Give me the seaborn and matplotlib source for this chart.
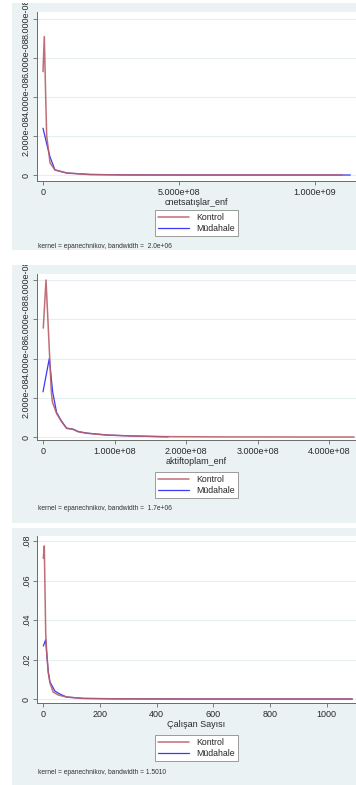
import pandas as pd
import matplotlib
matplotlib.use("Agg")
import matplotlib.pyplot as plt
from matplotlib.patches import Rectangle
import seaborn as sns

# Kernel density curves
# Panel 1: cnetsatışlar_enf
k1_x = [0, 4.8e6, 9.9e6, 1.36e7, 2.6e7, 4.4e7, 8.8e7, 1.73e8, 3.0e8, 5.0e8, 7.0e8, 9.0e8, 1.1e9]
k1_y = [5.3e-8, 7.1e-8, 4.0e-8, 2.0e-8, 0.62e-8, 0.26e-8, 0.10e-8, 0.02e-8, 0.005e-8, 0, 0, 0, 0]
m1_x = [0, 1.36e7, 2.6e7, 4.4e7, 8.8e7, 1.73e8, 3.0e8, 5.0e8, 7.0e8, 9.0e8, 1.13e9]
m1_y = [2.4e-8, 1.6e-8, 0.92e-8, 0.26e-8, 0.10e-8, 0.03e-8, 0.005e-8, 0, 0, 0, 0]

# Panel 2: aktiftoplam_enf
k2_x = [0.4e6, 4.2e6, 1.15e7, 1.3e7, 1.9e7, 2.6e7, 3.3e7, 4.2e7, 4.9e7, 6.1e7, 8.9e7, 1.26e8, 1.7e8, 2.5e8, 3.5e8, 4.35e8]
k2_y = [5.55e-8, 8.0e-8, 2.4e-8, 1.8e-8, 1.2e-8, 0.78e-8, 0.44e-8, 0.39e-8, 0.27e-8, 0.19e-8, 0.10e-8, 0.05e-8, 0.02e-8, 0.005e-8, 0, 0]
m2_x = [0, 8.8e6, 1.35e7, 1.9e7, 2.6e7, 3.3e7, 4.2e7, 4.9e7, 6.1e7, 8.9e7, 1.26e8, 1.6e8, 1.75e8]
m2_y = [2.3e-8, 4.0e-8, 2.3e-8, 1.25e-8, 0.8e-8, 0.45e-8, 0.4e-8, 0.28e-8, 0.2e-8, 0.1e-8, 0.05e-8, 0.02e-8, 0.01e-8]

# Panel 3: Çalışan Sayısı
k3_x = [0, 3.5, 8.5, 12, 17.6, 23.6, 35, 53, 82, 140, 250, 500, 800, 1090]
k3_y = [0.0713, 0.0775, 0.0334, 0.0233, 0.0132, 0.0081, 0.0035, 0.002, 0.001, 0.0003, 0.0001, 0, 0, 0]
m3_x = [0, 8.5, 12, 17.6, 23.6, 41, 59, 82, 140, 250, 500, 800, 1090]
m3_y = [0.0268, 0.030, 0.0233, 0.0137, 0.0086, 0.004, 0.0025, 0.001, 0.0003, 0.0001, 0, 0, 0]

groups = ["Kontrol", "Müdahale"]
x_titles = ["cnetsatışlar_enf", "aktiftoplam_enf", "Çalışan Sayısı"]
notes = ["kernel = epanechnikov, bandwidth =  2.0e+06",
         "kernel = epanechnikov, bandwidth =  1.7e+06",
         "kernel = epanechnikov, bandwidth = 1.5010"]
y_ticks = [[0, 2e-8, 4e-8, 6e-8, 8e-8], [0, 2e-8, 4e-8, 6e-8, 8e-8], [0, 0.02, 0.04, 0.06, 0.08]]
y_labels = [["0", "2.000e-08", "4.000e-08", "6.000e-08", "8.000e-08"],
            ["0", "2.000e-08", "4.000e-08", "6.000e-08", "8.000e-08"],
            ["0", ".02", ".04", ".06", ".08"]]
x_ticks = [[0, 5e8, 1e9], [0, 1e8, 2e8, 3e8, 4e8], [0, 200, 400, 600, 800, 1000]]
x_labels = [["0", "5.000e+08", "1.000e+09"],
            ["0", "1.000e+08", "2.000e+08", "3.000e+08", "4.000e+08"],
            ["0", "200", "400", "600", "800", "1000"]]
curves = [(k1_x, k1_y, m1_x, m1_y), (k2_x, k2_y, m2_x, m2_y), (k3_x, k3_y, m3_x, m3_y)]

# pixel layout (356 x 785 canvas)
W, H = 356, 785
panels = [
    dict(bt=3, bb=250, pt=12, pb=181, y0=175, y1=19, x0=43, xpx=136 / 5e8, leg=210, note=247),
    dict(bt=265, bb=523, pt=274, pb=440, y0=437, y1=280, x0=43, xpx=71.5 / 1e8, leg=472, note=508),
    dict(bt=528, bb=785, pt=536, pb=703, y0=699, y1=541, x0=43.3, xpx=56.7 / 200, leg=735, note=772),
]

sns.set_style("white")
plt.rcParams["font.family"] = ["Liberation Sans", "DejaVu Sans"]

bg_col = "#EAF2F3"
red = "#B95E67"
blue = "#3A3AF8"
axis_col = "#6A6A6A"

fig = plt.figure(figsize=(W / 100, H / 100), dpi=100)

for i, p in enumerate(panels):
    bg = Rectangle((12 / W, 1 - p["bb"] / H), 1 - 12 / W, (p["bb"] - p["bt"]) / H,
                   transform=fig.transFigure, facecolor=bg_col, edgecolor="none", zorder=-5)
    fig.patches.append(bg)

    left, right = 37, W
    ax = fig.add_axes([left / W, 1 - p["pb"] / H, (right - left) / W, (p["pb"] - p["pt"]) / H])
    ax.set_facecolor("white")

    kx, ky, mx, my = curves[i]
    df = pd.concat([
        pd.DataFrame({"x": mx, "y": my, "grup": groups[1]}),
        pd.DataFrame({"x": kx, "y": ky, "grup": groups[0]}),
    ])
    sns.lineplot(data=df[df.grup == groups[1]], x="x", y="y", color=blue, lw=0.9,
                 estimator=None, sort=False, ax=ax, label=groups[1])
    sns.lineplot(data=df[df.grup == groups[0]], x="x", y="y", color=red, lw=1.1, alpha=0.9,
                 estimator=None, sort=False, ax=ax, label=groups[0])

    # axis limits from pixel geometry
    top_val = y_ticks[i][-1]
    per_px = top_val / (p["y0"] - p["y1"])
    ax.set_ylim(-(p["pb"] - p["y0"]) * per_px, (p["y0"] - p["pt"]) * per_px)
    ax.set_xlim((left - p["x0"]) / p["xpx"], (right - p["x0"]) / p["xpx"])

    ax.set_yticks(y_ticks[i], labels=y_labels[i])
    ax.set_xticks(x_ticks[i], labels=x_labels[i])
    ax.tick_params(axis="y", length=3, width=0.6, color=axis_col, pad=1.5,
                   labelsize=6.5, labelcolor="#2A2A2A", left=True)
    ax.tick_params(axis="x", length=3, width=0.6, color=axis_col, pad=2,
                   labelsize=6.5, labelcolor="#2A2A2A", bottom=True)
    for lab in ax.get_yticklabels():
        lab.set_rotation(90)
        lab.set_va("center")
        lab.set_clip_path(bg)

    ax.grid(axis="y", color="#E6EFF0", lw=0.8)
    ax.grid(axis="x", visible=False)
    for s in ["top", "right"]:
        ax.spines[s].set_visible(False)
    for s in ["left", "bottom"]:
        ax.spines[s].set_color(axis_col)
        ax.spines[s].set_linewidth(0.7)

    ax.set_xlabel(x_titles[i], fontsize=6.5, color="#2A2A2A", labelpad=0.5)
    ax.set_ylabel("")

    handles, labels = ax.get_legend_handles_labels()
    order = [labels.index(g) for g in groups]
    ax.legend([handles[j] for j in order], [labels[j] for j in order],
              loc="upper center", bbox_to_anchor=(196.5 / W, 1 - p["leg"] / H),
              bbox_transform=fig.transFigure, fontsize=6.3, frameon=True, fancybox=False,
              edgecolor="#8C8C8C", framealpha=1, handlelength=3.6, handletextpad=0.8,
              borderpad=0.35, labelspacing=0.25, borderaxespad=0)
    ax.get_legend().get_frame().set_linewidth(0.6)

    fig.text(38 / W, 1 - p["note"] / H, notes[i], fontsize=4.8, color="#333333", va="center")

fig.savefig("out.png", dpi=100, facecolor="white")
